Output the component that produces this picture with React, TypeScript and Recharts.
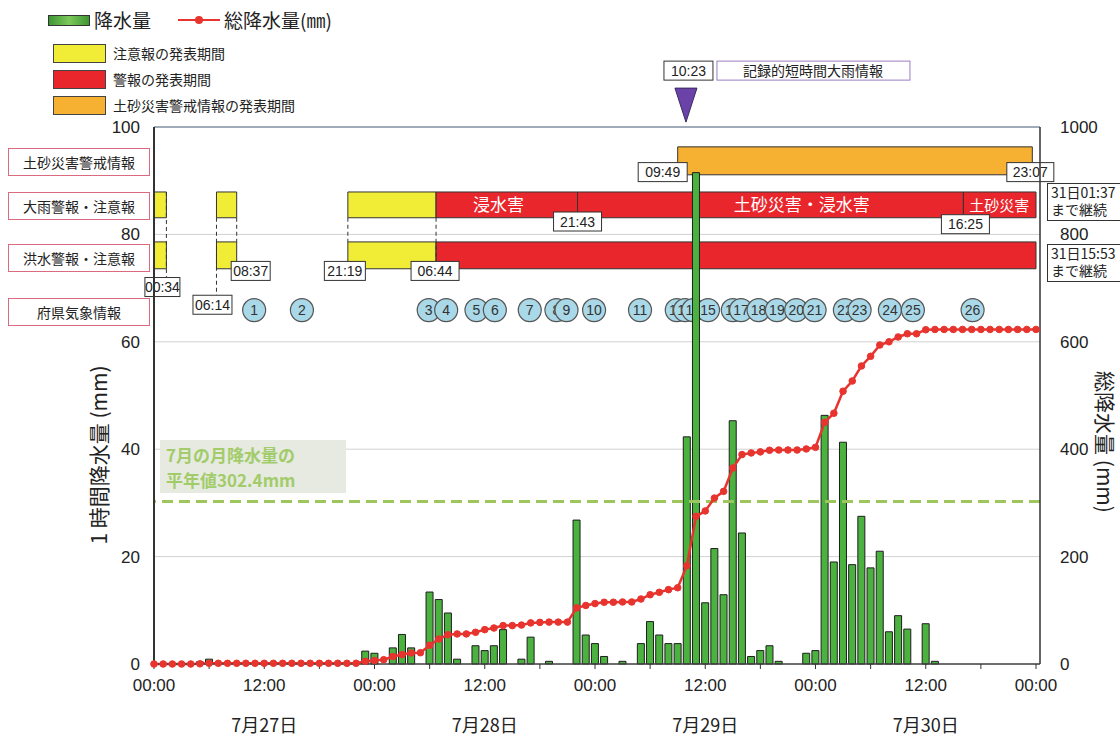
import {
  ComposedChart,
  Bar,
  Line,
  XAxis,
  YAxis,
  CartesianGrid,
  ReferenceArea,
  ReferenceLine,
  ReferenceDot,
} from "recharts";

// hour index from 7/27 00:00 to 7/31 00:00
const hourIndex = Array.from({ length: 97 }, (_, i) => i);
const dayLabels = ["7月27日", "7月28日", "7月29日", "7月30日"];

// hourly precipitation (mm), left axis
const rain = [
  0, 0, 0, 0, 0, 0.4, 0.9, 0, 0, 0, 0, 0,
  0, 0, 0, 0, 0, 0, 0, 0, 0, 0, 0, 2.4,
  2.0, 0, 3.0, 5.5, 3.0, 0, 13.4, 12.0, 9.5, 0.9, 0, 3.4,
  2.5, 3.4, 6.4, 0, 0.9, 5.0, 0, 0.5, 0, 0, 26.8, 5.4,
  3.8, 1.4, 0, 0.5, 0, 3.8, 7.9, 5.4, 3.8, 3.8, 42.3, 91.5,
  11.4, 21.5, 12.9, 45.3, 24.4, 1.4, 2.5, 3.4, 0.5, 0, 0, 2.0,
  2.5, 46.3, 19.0, 41.3, 18.5, 27.5, 17.9, 21.0, 6.0, 9.0, 6.5, 0,
  7.5, 0.5, 0, 0, 0, 0, 0, 0, 0, 0, 0, 0, 0,
];

// accumulated precipitation (mm), right axis
const total = [
  0, 0, 0, 0, 0, 0.4, 1.3, 1.3, 1.3, 1.3, 1.3, 1.3,
  1.3, 1.3, 1.3, 1.3, 1.3, 1.3, 1.3, 1.3, 1.3, 1.3, 1.3, 5,
  6.5, 8, 14, 17.5, 20.5, 21, 35, 46.5, 54.5, 56, 56, 59,
  64, 67, 71.5, 71.5, 72.5, 76.5, 77.5, 78, 78, 78, 104.5, 109,
  112.5, 115, 115, 115.5, 115.5, 121, 129, 133.5, 138.5, 142, 183, 275,
  285, 309, 321.5, 365, 390, 393, 395, 398, 398.5, 398.5, 398.5, 400.5,
  403.5, 450, 467, 508, 527, 555, 573, 594, 600, 609, 615, 615,
  622.5, 623, 623, 623, 623, 623, 623, 623, 623, 623, 623, 623, 623,
];

const normalJuly = 302.4;

// warning periods (hours from 7/27 00:00)
const advisoryPeriods = [
  [0, 1.35],
  [6.8, 9.0],
  [21.1, 30.7],
];
const heavyRainWarnings = [
  [30.7, 46.1],
  [46.1, 88.1],
  [88.1, 96],
];
const heavyRainTypes = ["浸水害", "土砂災害・浸水害", "土砂災害"];
const heavyRainTypeHours = [37.5, 70.5, 92];
const floodWarnings = [[30.7, 96]];
const landslideAlert = [57.0, 95.6];
const recordRainHour = 57.9;

// prefectural weather information no. 1..26
const infoHours = [
  10.9, 16.1, 29.9, 31.8, 35.1, 37.1, 40.9, 43.8, 44.9, 47.9, 52.9, 56.9, 57.8,
  58.7, 60.3, 63.0, 63.9, 65.8, 67.8, 69.9, 71.9, 75.2, 76.8, 80.1, 82.6, 89.1,
];

const stamps = [
  { t: "00:34", h: 1.35 },
  { t: "06:14", h: 6.8 },
  { t: "08:37", h: 9.0 },
  { t: "21:19", h: 21.1 },
  { t: "06:44", h: 30.7 },
  { t: "21:43", h: 46.1 },
  { t: "16:25", h: 88.1 },
  { t: "09:49", h: 57.0 },
  { t: "23:07", h: 95.6 },
];
// where each stamp box sits (left-axis level, pixel shift, box width)
const stampLevel = [70.2, 66.9, 73.2, 73.2, 73.2, 82.4, 81.9, 91.6, 91.6];
const stampShift = [-4, -4, 14, -3, -1, 0, 2, -15, -2];
const stampWidth = [35, 39, 39, 41, 48, 48, 48, 49, 47];

const ROW_LANDSLIDE = [91.1, 96.3];
const ROW_HEAVY = [83.1, 87.9];
const ROW_FLOOD = [73.6, 78.6];

const NUM_FONT = "'Liberation Sans', Arial, sans-serif";
const JP_FONT = "'Noto Sans CJK JP', 'Liberation Sans', sans-serif";
const YELLOW = "#f1ec36";
const RED = "#e8262c";
const ORANGE = "#f7b132";

const data = hourIndex.map((h, i) => ({ h, rain: rain[i], total: total[i] }));

function TimeTick(props: any) {
  const { x, y, payload } = props;
  const h = payload.value;
  if (h % 12 !== 0) return <g />;
  return (
    <g>
      <text x={x} y={y + 20} textAnchor="middle" fontSize={17} fill="#222" fontFamily={NUM_FONT}>
        {h % 24 === 0 ? "00:00" : "12:00"}
      </text>
      {h % 24 === 12 && (
        <text x={x} y={y + 61} textAnchor="middle" fontSize={18} fill="#222" fontFamily={JP_FONT}>
          {dayLabels[(h - 12) / 24]}
        </text>
      )}
    </g>
  );
}

const stampShape = (t: string, dx: number, w: number) => (p: any) => {
  const cx = p.cx + dx;
  return (
    <g>
      <rect x={cx - w / 2} y={p.cy - 9.5} width={w} height={19} fill="#fff" stroke="#333" />
      <text x={cx} y={p.cy + 5} textAnchor="middle" fontSize={14} fill="#222" fontFamily={NUM_FONT}>
        {t}
      </text>
    </g>
  );
};

const infoShape = (n: number) => (p: any) => (
  <g>
    <circle cx={p.cx} cy={p.cy} r={11.5} fill="#a9d8e8" stroke="#555" strokeWidth={1.2} />
    <text x={p.cx} y={p.cy + 5} textAnchor="middle" fontSize={14} fill="#333" fontFamily={NUM_FONT}>
      {n}
    </text>
  </g>
);

const typeShape = (t: string, size: number) => (p: any) => (
  <text x={p.cx} y={p.cy + 6} textAnchor="middle" fontSize={size} fill="#fff" fontFamily={JP_FONT}>
    {t}
  </text>
);

const recordShape = (p: any) => {
  const cx = p.cx;
  const cy = p.cy;
  return (
    <g>
      <rect x={cx - 22} y={cy - 9.5} width={49} height={19} fill="#fff" stroke="#333" />
      <text x={cx + 2.5} y={cy + 5} textAnchor="middle" fontSize={14} fill="#222" fontFamily={NUM_FONT}>
        10:23
      </text>
      <rect x={cx + 31} y={cy - 9.5} width={193} height={19} fill="#fff" stroke="#9a7cc4" />
      <text x={cx + 127} y={cy + 5} textAnchor="middle" fontSize={14} fill="#222" fontFamily={JP_FONT}>
        記録的短時間大雨情報
      </text>
      <polygon
        points={`${cx - 11},${cy + 17.5} ${cx + 11},${cy + 17.5} ${cx},${cy + 51.5}`}
        fill="#6b42a8"
        stroke="#3a2a60"
      />
    </g>
  );
};

const rowLabel = (text: string, top: number, height: number) => (
  <div
    style={{
      position: "absolute",
      left: 8,
      top,
      width: 140,
      height,
      border: "1.5px solid #d96a80",
      background: "#fff",
      fontSize: 14,
      lineHeight: `${height}px`,
      textAlign: "center",
      color: "#222",
    }}
  >
    {text}
  </div>
);

export default function App() {
  return (
    <div style={{ position: "relative", width: 1120, height: 740, background: "#fff", fontFamily: JP_FONT }}>
      <style>{`body{margin:0}`}</style>
      <ComposedChart
        width={1120}
        height={740}
        data={data}
        margin={{ top: 127, right: 20, bottom: 6, left: 94 }}
      >
        <CartesianGrid yAxisId="left" vertical={false} stroke="#d2d2d2" />

        {/* warning bands */}
        <ReferenceArea
          yAxisId="left"
          x1={landslideAlert[0]}
          x2={landslideAlert[1]}
          y1={ROW_LANDSLIDE[0]}
          y2={ROW_LANDSLIDE[1]}
          fill={ORANGE}
          fillOpacity={1}
          stroke="#333"
          zIndex={50}
        />
        {advisoryPeriods.map(([a, b], i) => (
          <ReferenceArea key={"ah" + i} yAxisId="left" x1={a} x2={b} y1={ROW_HEAVY[0]} y2={ROW_HEAVY[1]}
            fill={YELLOW} fillOpacity={1} stroke="#333" zIndex={50} />
        ))}
        {advisoryPeriods.map(([a, b], i) => (
          <ReferenceArea key={"af" + i} yAxisId="left" x1={a} x2={b} y1={ROW_FLOOD[0]} y2={ROW_FLOOD[1]}
            fill={YELLOW} fillOpacity={1} stroke="#333" zIndex={50} />
        ))}
        {heavyRainWarnings.map(([a, b], i) => (
          <ReferenceArea key={"wh" + i} yAxisId="left" x1={a} x2={b} y1={ROW_HEAVY[0]} y2={ROW_HEAVY[1]}
            fill={RED} fillOpacity={1} stroke="#333" zIndex={50} />
        ))}
        {floodWarnings.map(([a, b], i) => (
          <ReferenceArea key={"wf" + i} yAxisId="left" x1={a} x2={b} y1={ROW_FLOOD[0]} y2={ROW_FLOOD[1]}
            fill={RED} fillOpacity={1} stroke="#333" zIndex={50} />
        ))}

        {/* dashed connectors */}
        <ReferenceLine yAxisId="left" segment={[{ x: advisoryPeriods[0][1], y: 87.9 }, { x: advisoryPeriods[0][1], y: 72 }]}
          stroke="#333" strokeDasharray="4 3" zIndex={60} />
        <ReferenceLine yAxisId="left" segment={[{ x: advisoryPeriods[1][0], y: 83.1 }, { x: advisoryPeriods[1][0], y: 68.7 }]}
          stroke="#333" strokeDasharray="4 3" zIndex={60} />
        <ReferenceLine yAxisId="left" segment={[{ x: advisoryPeriods[1][1], y: 83.1 }, { x: advisoryPeriods[1][1], y: 78.6 }]}
          stroke="#333" strokeDasharray="4 3" zIndex={60} />
        <ReferenceLine yAxisId="left" segment={[{ x: advisoryPeriods[2][0], y: 83.1 }, { x: advisoryPeriods[2][0], y: 78.6 }]}
          stroke="#333" strokeDasharray="4 3" zIndex={60} />
        <ReferenceLine yAxisId="left" segment={[{ x: advisoryPeriods[2][1], y: 83.1 }, { x: advisoryPeriods[2][1], y: 75 }]}
          stroke="#333" strokeDasharray="4 3" zIndex={60} />
        <ReferenceLine yAxisId="left" y={100} stroke="#8797aa" strokeWidth={1.5} zIndex={60} />

        {heavyRainTypes.map((t, i) => (
          <ReferenceDot key={t} yAxisId="left" x={heavyRainTypeHours[i]} y={85.5} r={1}
            shape={typeShape(t, i === 2 ? 15 : 17)} ifOverflow="visible" zIndex={70} />
        ))}

        {stamps.map((s, i) => (
          <ReferenceDot key={s.t} yAxisId="left" x={s.h} y={stampLevel[i]} r={1}
            shape={stampShape(s.t, stampShift[i], stampWidth[i])} ifOverflow="visible" zIndex={70} />
        ))}

        {infoHours.map((h, i) => (
          <ReferenceDot key={"i" + i} yAxisId="left" x={h} y={65.9} r={11.5}
            shape={infoShape(i + 1)} ifOverflow="visible" zIndex={70} />
        ))}

        <ReferenceDot yAxisId="left" x={recordRainHour} y={110.5} r={1} shape={recordShape} ifOverflow="visible" zIndex={70} />

        <XAxis
          dataKey="h"
          type="number"
          domain={[0, 96]}
          ticks={[0, 6, 12, 18, 24, 30, 36, 42, 48, 54, 60, 66, 72, 78, 84, 90, 96]}
          interval={0}
          tick={(p: any) => <TimeTick {...p} />}
          tickLine={{ stroke: "#333" }}
          tickSize={5}
          axisLine={{ stroke: "#444", strokeWidth: 1.5 }}
          height={70}
          padding={{ left: 0, right: 4 }}
        />
        <YAxis
          yAxisId="left"
          domain={[0, 100]}
          ticks={[0, 20, 40, 60, 80, 100]}
          width={60}
          axisLine={{ stroke: "#333", strokeWidth: 2 }}
          tickLine={false}
          tickMargin={8}
          tick={{ fontSize: 17, fill: "#222", fontFamily: NUM_FONT }}
        />
        <YAxis
          yAxisId="right"
          orientation="right"
          domain={[0, 1000]}
          ticks={[0, 200, 400, 600, 800, 1000]}
          width={60}
          axisLine={{ stroke: "#333", strokeWidth: 1.5 }}
          tickLine={false}
          tickMargin={14}
          tick={{ fontSize: 17, fill: "#222", fontFamily: NUM_FONT }}
        />

        <Bar
          dataKey="rain"
          yAxisId="left"
          fill="#4cb23f"
          stroke="#1e1e1e"
          strokeWidth={1}
          barSize={7}
          isAnimationActive={false}
        />
        <ReferenceLine
          yAxisId="right"
          y={normalJuly}
          stroke="#9dc65c"
          strokeWidth={3}
          strokeDasharray="11 6"
          zIndex={350}
        />
        <Line
          dataKey="total"
          yAxisId="right"
          type="linear"
          stroke="#e8342e"
          strokeWidth={2.5}
          dot={{ r: 3.3, fill: "#e8342e", stroke: "#e8342e", strokeWidth: 1 }}
          activeDot={false}
          isAnimationActive={false}
        />
      </ComposedChart>

      {/* legend */}
      <div style={{ position: "absolute", left: 48, top: 15, width: 40, height: 9, border: "1px solid #333",
        background: "linear-gradient(90deg,#3d9634,#7cc85a 50%,#3d9634)" }} />
      <div style={{ position: "absolute", left: 94, top: 6, fontSize: 19, color: "#222", lineHeight: "28px" }}>降水量</div>
      <div style={{ position: "absolute", left: 178, top: 19, width: 42, height: 2, background: "#e8342e" }} />
      <div style={{ position: "absolute", left: 195, top: 16, width: 8, height: 8, borderRadius: 4, background: "#e8342e" }} />
      <div style={{ position: "absolute", left: 224, top: 6, fontSize: 19, color: "#222", lineHeight: "28px" }}>総降水量(㎜)</div>

      {[
        { c: YELLOW, t: "注意報の発表期間", top: 44 },
        { c: RED, t: "警報の発表期間", top: 70 },
        { c: ORANGE, t: "土砂災害警戒情報の発表期間", top: 96 },
      ].map((l) => (
        <div key={l.t}>
          <div style={{ position: "absolute", left: 53, top: l.top, width: 51, height: 17, background: l.c, border: "1px solid #444" }} />
          <div style={{ position: "absolute", left: 113, top: l.top, fontSize: 14, lineHeight: "19px", color: "#222" }}>{l.t}</div>
        </div>
      ))}

      {rowLabel("土砂災害警戒情報", 148, 26)}
      {rowLabel("大雨警報・注意報", 192, 26)}
      {rowLabel("洪水警報・注意報", 244, 26)}
      {rowLabel("府県気象情報", 298, 26)}

      {/* continuation notes */}
      {[
        { t: "31日01:37", top: 183 },
        { t: "31日15:53", top: 244 },
      ].map((n) => (
        <div key={n.t} style={{ position: "absolute", left: 1047, top: n.top, width: 80, height: 36,
          border: "1px solid #333", background: "#fff", fontSize: 14, lineHeight: "17px", color: "#222", paddingLeft: 3 }}>
          {n.t}
          <br />
          まで継続
        </div>
      ))}

      {/* normal July amount */}
      <div style={{ position: "absolute", left: 160, top: 440, width: 186, height: 53, background: "#e6eae1",
        color: "#a2cc6a", fontWeight: 700, fontSize: 17, lineHeight: "25px", paddingLeft: 6, boxSizing: "border-box", paddingTop: 2 }}>
        7月の月降水量の
        <br />
        平年値302.4mm
      </div>

      {/* axis titles */}
      <div style={{ position: "absolute", left: 98, top: 455, transform: "translate(-50%,-50%) rotate(-90deg)",
        fontSize: 21, color: "#222", whiteSpace: "nowrap" }}>
        1 時間降水量 (mm)
      </div>
      <div style={{ position: "absolute", left: 1106, top: 442, transform: "translate(-50%,-50%) rotate(90deg)",
        fontSize: 21, color: "#222", whiteSpace: "nowrap" }}>
        総降水量 (mm)
      </div>
    </div>
  );
}
